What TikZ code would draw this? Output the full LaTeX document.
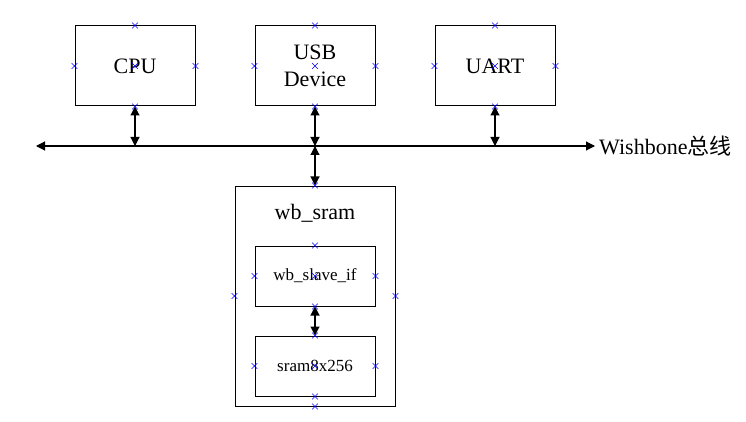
\documentclass[tikz,border=0pt]{standalone}
\usepackage{fontspec}
\setmainfont{Liberation Serif}
\newfontfamily\cjk{Noto Sans CJK SC}
\usetikzlibrary{arrows.meta,shapes.misc}
\tikzset{
  blk/.style={draw, line width=1pt, minimum width=120pt, minimum height=80pt, inner sep=0pt, font=\fontsize{22}{27}\selectfont, align=center},
  sub/.style={draw, line width=1pt, minimum width=120pt, minimum height=60pt, inner sep=0pt, font=\fontsize{17}{20}\selectfont},
  cp/.style={cross out, draw=blue, line width=0.6pt, minimum size=5pt, inner sep=0pt},
  tip/.style={Triangle[length=9pt,width=9pt]},
  link/.style={line width=1.1pt, {Triangle[length=9pt,width=9pt]}-{Triangle[length=9pt,width=9pt]}},
}
\begin{document}
\begin{tikzpicture}[x=1pt,y=-1pt]
\useasboundingbox (0,0) rectangle (746,422);
% top blocks
\node[blk] (cpu) at (135,66) {CPU};
\node[blk] (usb) at (315,66) {USB\\Device};
\node[blk] (uart) at (495,66) {UART};
% wb_sram
\node[draw, line width=1pt, minimum width=160pt, minimum height=220pt, inner sep=0pt] (sram) at (315,296) {};
\node[font=\fontsize{22}{27}\selectfont] (title) at (315,213) {wb\_sram};
\node[sub] (slave) at (315,276) {wb\_slave\_if};
\node[sub] (mem) at (315,366) {sram8x256};
% bus
\coordinate (busL) at (36,146);
\coordinate (busR) at (595,146);
\coordinate (bcpu) at (135,146);
\coordinate (busb) at (315,146);
\coordinate (buart) at (495,146);
\draw[line width=1.1pt, {Triangle[length=9pt,width=9pt]}-{Triangle[length=9pt,width=9pt]}] (busL) -- (busR);
\node[anchor=west, inner sep=0pt, font=\fontsize{22}{27}\selectfont] (busname) at (599,146) {Wishbone{\cjk 总线}};
% links
\draw[link] (cpu.south) -- (bcpu);
\draw[link] (usb.south) -- (busb);
\draw[link] (uart.south) -- (buart);
\draw[link] (busb) -- (sram.north);
\draw[link] (slave.south) -- (mem.north);
% connection points
\foreach \n in {cpu,usb,uart,slave,mem}{
  \node[cp] at (\n.north) {};
  \node[cp] at (\n.south) {};
  \node[cp] at (\n.west) {};
  \node[cp] at (\n.east) {};
  \node[cp] at (\n.center) {};
}
\foreach \a in {north,south,west,east}{
  \node[cp] at (sram.\a) {};
}
\end{tikzpicture}
\end{document}
